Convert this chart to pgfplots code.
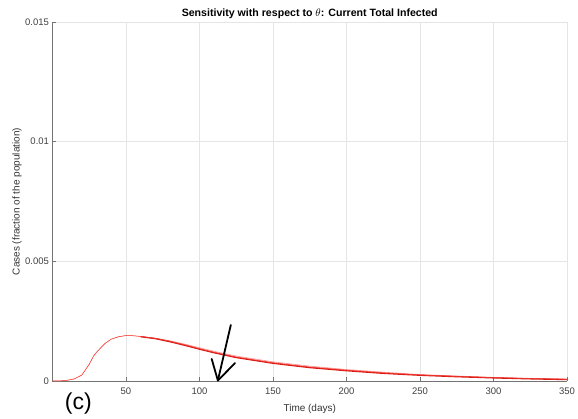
\documentclass[border=0pt]{standalone}
\usepackage{pgfplots}
\pgfplotsset{compat=1.18}
\usepackage{fontspec}
\setmainfont{Liberation Sans}
\definecolor{axgray}{gray}{0.45}
\definecolor{gridgray}{gray}{0.9}
\definecolor{darkred}{rgb}{0.85,0.08,0.06}
\definecolor{midred}{rgb}{0.95,0.25,0.2}
\definecolor{lightred}{rgb}{1,0.55,0.55}
\pgfplotstableread{
x y
0 0
5 0.000005
10 0.00003
15 0.00009
20 0.00025
25 0.0007
28 0.00105
30 0.0012
33 0.0014
36 0.00158
40 0.00175
45 0.00185
50 0.0019
55 0.00189
60 0.00186
70 0.00178
80 0.00166
90 0.00151
100 0.00135
110 0.0012
125 0.001
150 0.00076
175 0.00058
200 0.00045
225 0.00034
250 0.00025
275 0.00019
300 0.00014
325 0.0001
350 0.00007
}\mainc
\pgfplotstableread{
x y
60 0.00186
70 0.00179
80 0.00168
90 0.00154
100 0.00139
110 0.00124
125 0.00104
150 0.0008
175 0.00062
200 0.00048
225 0.00037
250 0.00027
275 0.00021
300 0.00015
325 0.00011
350 0.00008
}\upperc
\pgfplotstableread{
x y
60 0.00185
70 0.00177
80 0.00164
90 0.00149
100 0.00133
110 0.00118
125 0.00098
150 0.00074
175 0.00056
200 0.00043
225 0.00032
250 0.00024
275 0.00018
300 0.00013
325 0.00009
350 0.00006
}\lowerc
\begin{document}
\begin{tikzpicture}[x=1pt,y=1pt]
\useasboundingbox (-52.5,-38) rectangle (525.5,381);
\begin{axis}[
  at={(0,0)}, anchor=south west,
  scale only axis=true,
  width=514.5pt, height=359pt,
  xmin=0, xmax=350, ymin=0, ymax=0.015,
  axis x line=bottom, axis y line=left,
  axis line style={axgray, -, line width=0.6pt},
  xtick={50,100,...,350},
  ytick={0,0.005,0.01,0.015},
  yticklabels={0,0.005,0.01,0.015},
  scaled y ticks=false,
  tick align=inside,
  major tick length=4pt,
  tick style={axgray, line width=0.5pt},
  grid=major,
  major grid style={gridgray, line width=0.5pt},
  ticklabel style={font=\fontsize{9.5}{11}\selectfont, text=black!75},
  xticklabel style={yshift=-3pt},
  /pgf/number format/assume math mode=true,
  xlabel={Time (days)},
  ylabel={Cases (fraction of the population)},
  label style={font=\fontsize{10}{12}\selectfont, text=black!80},
  xlabel style={at={(axis description cs:0.5,0)}, anchor=north, yshift=-20pt},
  ylabel style={at={(axis description cs:-0.069,0.5)}, anchor=center},
  every axis title shift=0pt,
  title={\textbf{Sensitivity with respect to $\theta$: Current Total Infected}},
  title style={font=\fontsize{10.6}{12}\selectfont, at={(axis description cs:0.5,1)}, anchor=south, yshift=-0.5pt},
  clip=false,
]
\addplot[lightred, line width=0.5pt] table[x=x,y=y] {\mainc};
\addplot[lightred, line width=0.6pt] table[x=x,y=y] {\upperc};
\addplot[darkred, line width=1.3pt] table[x=x,y=y] {\lowerc};
\addplot[midred, line width=0.5pt] table[x=x,y=y] {\mainc};
\draw[black, line width=1.8pt, line cap=round] (axis cs:121.3,0.00234) -- (axis cs:112.5,0.00002);
\draw[black, line width=1.8pt, line cap=round, line join=round] (axis cs:108.3,0.00092) -- (axis cs:112.5,0.00002) -- (axis cs:124.2,0.00075);
\node[font=\fontsize{23}{26}\selectfont, anchor=center] at (axis cs:17.6,-0.00094) {(c)};
\end{axis}
\end{tikzpicture}
\end{document}
